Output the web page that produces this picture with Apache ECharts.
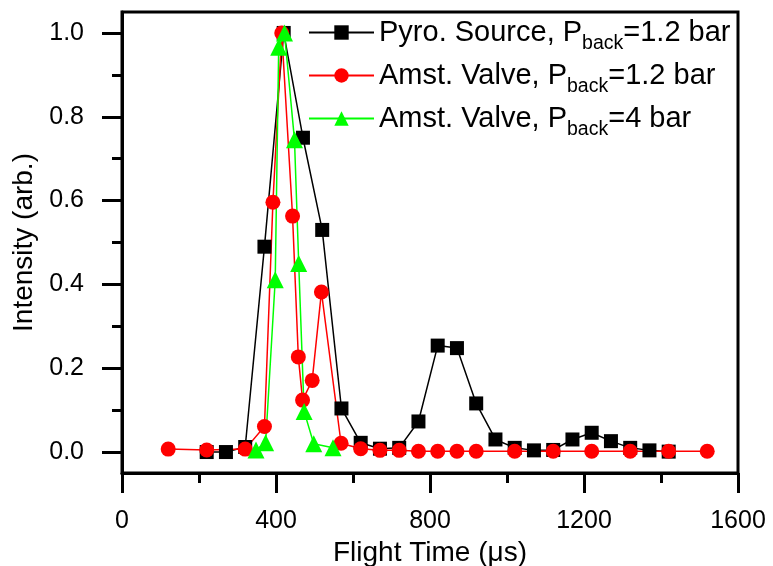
<!DOCTYPE html>
<html>
<head>
<meta charset="utf-8">
<script src="https://cdn.jsdelivr.net/npm/echarts@6/dist/echarts.min.js"></script>
<style>html,body{margin:0;padding:0;background:#fff}#c{width:773px;height:566px}</style>
</head>
<body>
<div id="c"></div>
<script>
// Pyro. Source, Pback = 1.2 bar
const pyroX = [220,270,320,370,420,470,520,570,620,670,720,770,820,870,920,970,1020,1070,1120,1170,1220,1270,1320,1370,1420];
const pyroY = [0.0,0.0,0.012,0.49,1.0,0.75,0.53,0.104,0.022,0.008,0.010,0.073,0.254,0.248,0.116,0.030,0.010,0.004,0.005,0.030,0.046,0.026,0.010,0.004,0.001];
// Amst. Valve, Pback = 1.2 bar
const amst12X = [120,220,320,370,392,415,443,458,469,494,518,569,620,670,720,770,820,870,920,1020,1120,1220,1320,1420,1520];
const amst12Y = [0.007,0.005,0.007,0.061,0.596,1.0,0.563,0.227,0.124,0.171,0.382,0.021,0.008,0.004,0.004,0.002,0.002,0.002,0.002,0.002,0.002,0.002,0.002,0.002,0.002];
// Amst. Valve, Pback = 4 bar
const amst4X = [348,373,398,407,422,448,459,473,498,548];
const amst4Y = [0.005,0.022,0.411,0.966,1.0,0.745,0.45,0.097,0.02,0.01];

const seriesNames = ['Pyro. Source, P|1.2 bar', 'Amst. Valve, P|1.2 bar', 'Amst. Valve, P|4 bar'];
const xTicks = [0, 400, 800, 1200, 1600];
const yMajorTicks = [0, 0.2, 0.4, 0.6, 0.8, 1.0];
const yMinorTicks = [0.1, 0.3, 0.5, 0.7, 0.9];

const FONT = 'Liberation Sans, Arial, sans-serif';
const zip = (xs, ys) => xs.map((x, i) => [x, ys[i]]);

function legendFmt(name) {
  const parts = name.split('|');
  return '{n|' + parts[0] + '}{s|back}{n|=' + parts[1] + '}';
}

const chart = echarts.init(document.getElementById('c'), null, {renderer: 'canvas'});
chart.setOption({
  animation: false,
  backgroundColor: '#fff',
  grid: {left: 122, right: 35, top: 12, bottom: 93, outerBoundsMode: 'none', containLabel: false,
         show: true, borderColor: '#000', borderWidth: 3, backgroundColor: 'transparent'},
  legend: {
    orient: 'vertical', left: 308, top: 11, padding: 0, itemGap: 0,
    itemWidth: 65, itemHeight: 18,
    data: seriesNames,
    formatter: legendFmt,
    textStyle: {
      rich: {
        n: {fontFamily: FONT, fontSize: 29, color: '#000', lineHeight: 32},
        s: {fontFamily: FONT, fontSize: 19.5, color: '#000', lineHeight: 32, padding: [23, 0, 0, 0]}
      }
    }
  },
  xAxis: {
    type: 'value', min: 0, max: 1600, interval: 400,
    name: 'Flight Time (\u03bcs)', nameLocation: 'middle', nameGap: 61,
    nameTextStyle: {fontFamily: FONT, fontSize: 28, color: '#000'},
    axisLine: {show: true, onZero: false, lineStyle: {color: '#000', width: 3}},
    axisTick: {show: true, inside: false, length: 20, lineStyle: {color: '#000', width: 3}},
    minorTick: {show: true, splitNumber: 2, length: 10, lineStyle: {color: '#000', width: 3}},
    axisLabel: {fontFamily: FONT, fontSize: 25, color: '#000', margin: 36, customValues: xTicks, formatter: v => String(v)},
    splitLine: {show: false}
  },
  yAxis: [{
    type: 'value', min: -0.05, max: 1.05,
    name: 'Intensity (arb.)', nameLocation: 'middle', nameGap: 80,
    nameTextStyle: {fontFamily: FONT, fontSize: 28, color: '#000'},
    axisLine: {show: true, onZero: false, lineStyle: {color: '#000', width: 3}},
    axisTick: {show: true, inside: false, length: 20, customValues: yMajorTicks, lineStyle: {color: '#000', width: 3}},
    axisLabel: {fontFamily: FONT, fontSize: 25, color: '#000', margin: 38, customValues: yMajorTicks, formatter: v => v.toFixed(1)},
    splitLine: {show: false}
  }, {
    type: 'value', min: -0.05, max: 1.05, position: 'left',
    axisLine: {show: false, onZero: false},
    axisTick: {show: true, inside: false, length: 10, customValues: yMinorTicks, lineStyle: {color: '#000', width: 3}},
    axisLabel: {show: false},
    splitLine: {show: false}
  }],
  series: [{
    name: seriesNames[0], type: 'line', data: zip(pyroX, pyroY),
    symbol: 'rect', symbolSize: 14, color: '#000',
    lineStyle: {color: '#000', width: 1.5}, itemStyle: {color: '#000'}
  }, {
    name: seriesNames[1], type: 'line', data: zip(amst12X, amst12Y),
    symbol: 'circle', symbolSize: 15, color: '#ff0000',
    lineStyle: {color: '#ff0000', width: 1.5}, itemStyle: {color: '#ff0000'}
  }, {
    name: seriesNames[2], type: 'line', data: zip(amst4X, amst4Y),
    symbol: 'triangle', symbolSize: 17, color: '#00ff00',
    lineStyle: {color: '#00ff00', width: 1.5}, itemStyle: {color: '#00ff00'}
  }]
});
</script>
</body>
</html>
